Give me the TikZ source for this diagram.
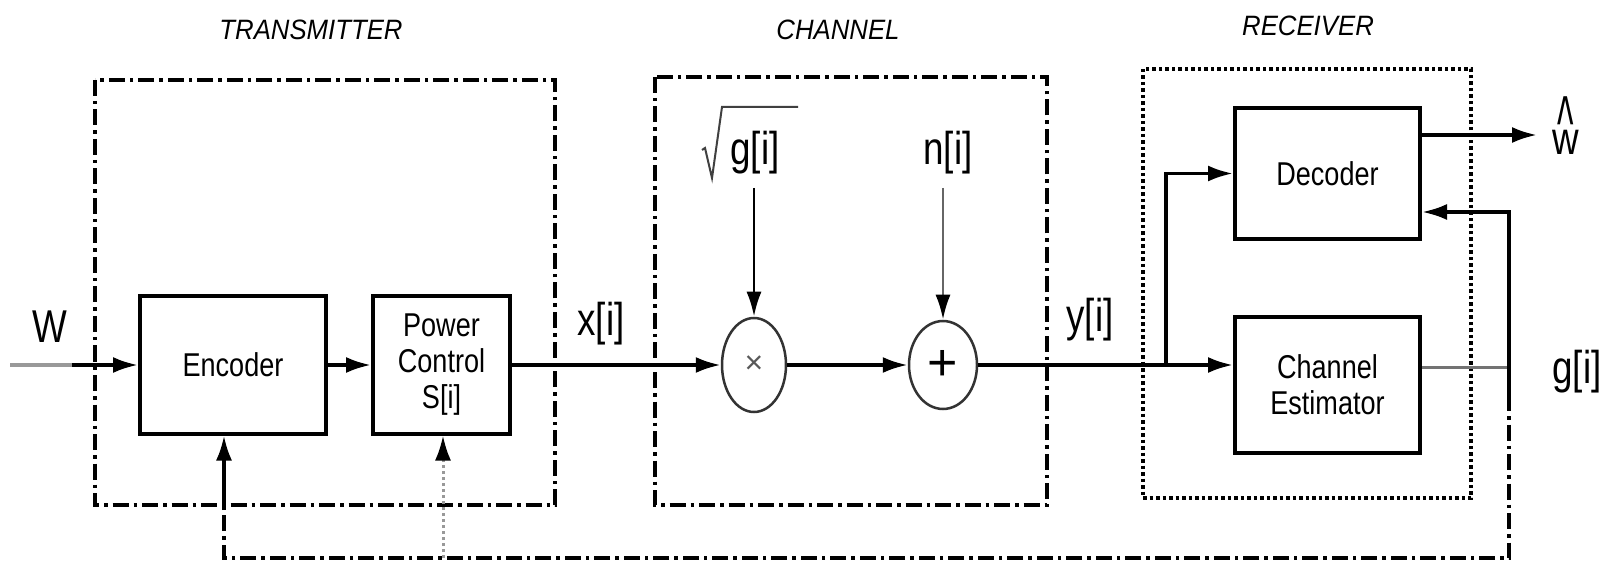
\documentclass[tikz,border=0pt]{standalone}
\usepackage{fontspec}
\usepackage{graphicx}
\usetikzlibrary{arrows.meta,shapes.geometric}
\newfontfamily\labf{Liberation Sans}[FakeStretch=0.8]
\newfontfamily\boxff{Liberation Sans}[FakeStretch=0.82]
\newfontfamily\titf{Liberation Sans}[FakeStretch=0.92]
\newfontfamily\plainf{Liberation Sans}
\begin{document}
\begin{tikzpicture}[x=1pt,y=-1pt,
  blk/.style={draw, line width=4pt, inner sep=0pt, align=center, font=\boxff\fontsize{33}{36}\selectfont},
  lbl/.style={inner sep=0pt, anchor=base, font=\labf\fontsize{46}{50}\selectfont},
  ttl/.style={inner sep=0pt, font=\titf\itshape\fontsize{28}{30}\selectfont},
  sig/.style={line width=3.5pt},
  arr/.style={line width=3.5pt, -{Latex[length=25pt,width=16pt]}},
  frm/.style={line width=3.5pt, dash pattern=on 16pt off 5pt on 3.5pt off 5pt},
  rfrm/.style={line width=4pt, dash pattern=on 3.5pt off 3pt},
  fb/.style={line width=3.5pt, dash pattern=on 16pt off 5pt on 3.5pt off 5pt},
  op/.style={draw=black!80, line width=2.5pt, ellipse, inner sep=0pt},
  rad/.style={draw=black!75, line width=2pt, line join=miter},
]
\useasboundingbox (0,0) rectangle (1604,561);
\fill[white] (0,0) rectangle (1604,561);

% frames
\draw[frm] (95,80) rectangle (555,505);
\draw[frm] (655,77) rectangle (1047,505);
\draw[rfrm] (1143,69) rectangle (1471,498);

\node[ttl] (ttx) at (311,30) {TRANSMITTER};
\node[ttl] (tch) at (838,30) {CHANNEL};
\node[ttl] (trx) at (1308,26) {RECEIVER};

% blocks
\node[blk, minimum width=186pt, minimum height=137pt] (enc) at (233,365) {Encoder};
\node[blk, minimum width=137pt, minimum height=137pt] (pc) at (441.5,365) {Power\\Control\\S[i]};
\node[op, minimum width=64pt, minimum height=94pt, font=\plainf\fontsize{32}{32}\selectfont, text=black!65] (mul) at (754,365) {×};
\node[op, minimum width=68pt, minimum height=88pt, font=\plainf\fontsize{52}{52}\selectfont] (add) at (943,365) {+};
\node[blk, minimum width=185pt, minimum height=131pt] (dec) at (1327.5,173.5) {Decoder};
\node[blk, minimum width=185pt, minimum height=136pt] (est) at (1327.5,385) {Channel\\Estimator};

% labels
\node[lbl] (w) at (50,342) {W};
\node[lbl] (xl) at (601,336) {x[i]};
\node[lbl] (yl) at (1090,332) {y[i]};
\node[lbl] (nl) at (948,165) {n[i]};
\node[lbl] (gl) at (1577,383) {g[i]};
\node[lbl] (sq) at (755,165) {g[i]};
\draw[rad] (702,150) -- (705,148) -- (712,178) -- (722,107) -- (798,107);
\node[lbl] (wh) at (1566,155) {\ooalign{\hidewidth\raisebox{4.5pt}{\scalebox{0.95}[1.7]{\textasciicircum}}\hidewidth\cr w\cr}};

% forward path
\coordinate (win) at (10,365);
\coordinate (wmid) at (72,365);
\draw[sig, black!40] (win) -- (wmid);
\draw[arr] (wmid) -- (enc.west);
\draw[arr] (enc.east) -- (pc.west);
\draw[arr] (pc.east) -- (mul.west);
\draw[arr] (mul.east) -- (add.west);
\draw[arr] (add.east) -- (add.east -| est.west);
\coordinate (spl) at (1166,365);
\draw[arr] (spl) |- (dec.west);
\coordinate (wout) at (1537,135);
\draw[arr] (dec.east |- wout) -- (wout);
\coordinate (sqs) at (754,188);
\draw[line width=2.8pt, -{Latex[length=25pt,width=15pt]}] (sqs) -- (mul.north);
\coordinate (nis) at (943,188);
\draw[line width=2.8pt, black!60, -{Latex[length=25pt,width=15pt,color=black]}] (nis) -- (add.north);

% feedback
\coordinate (gj) at (1509,367);
\coordinate (fbd) at (1509,212);
\coordinate (gs) at (1509,395);
\coordinate (br) at (1509,558);
\coordinate (bl) at (224,558);
\coordinate (bli) at (224,505);
\coordinate (bp) at (443,558);
\draw[line width=3pt, black!55] (est.east |- gj) -- (gj);
\draw[arr] (gs) -- (fbd) -- (dec.east |- fbd);
\draw[fb] (gs) -- (br) -- (bl) -- (bli);
\draw[arr] (bli) -- (bl |- enc.south);
\draw[line width=3pt, black!40, dash pattern=on 3pt off 3pt, -{Latex[length=25pt,width=16pt,color=black]}] (bp) -- (bp |- pc.south);
\end{tikzpicture}
\end{document}
